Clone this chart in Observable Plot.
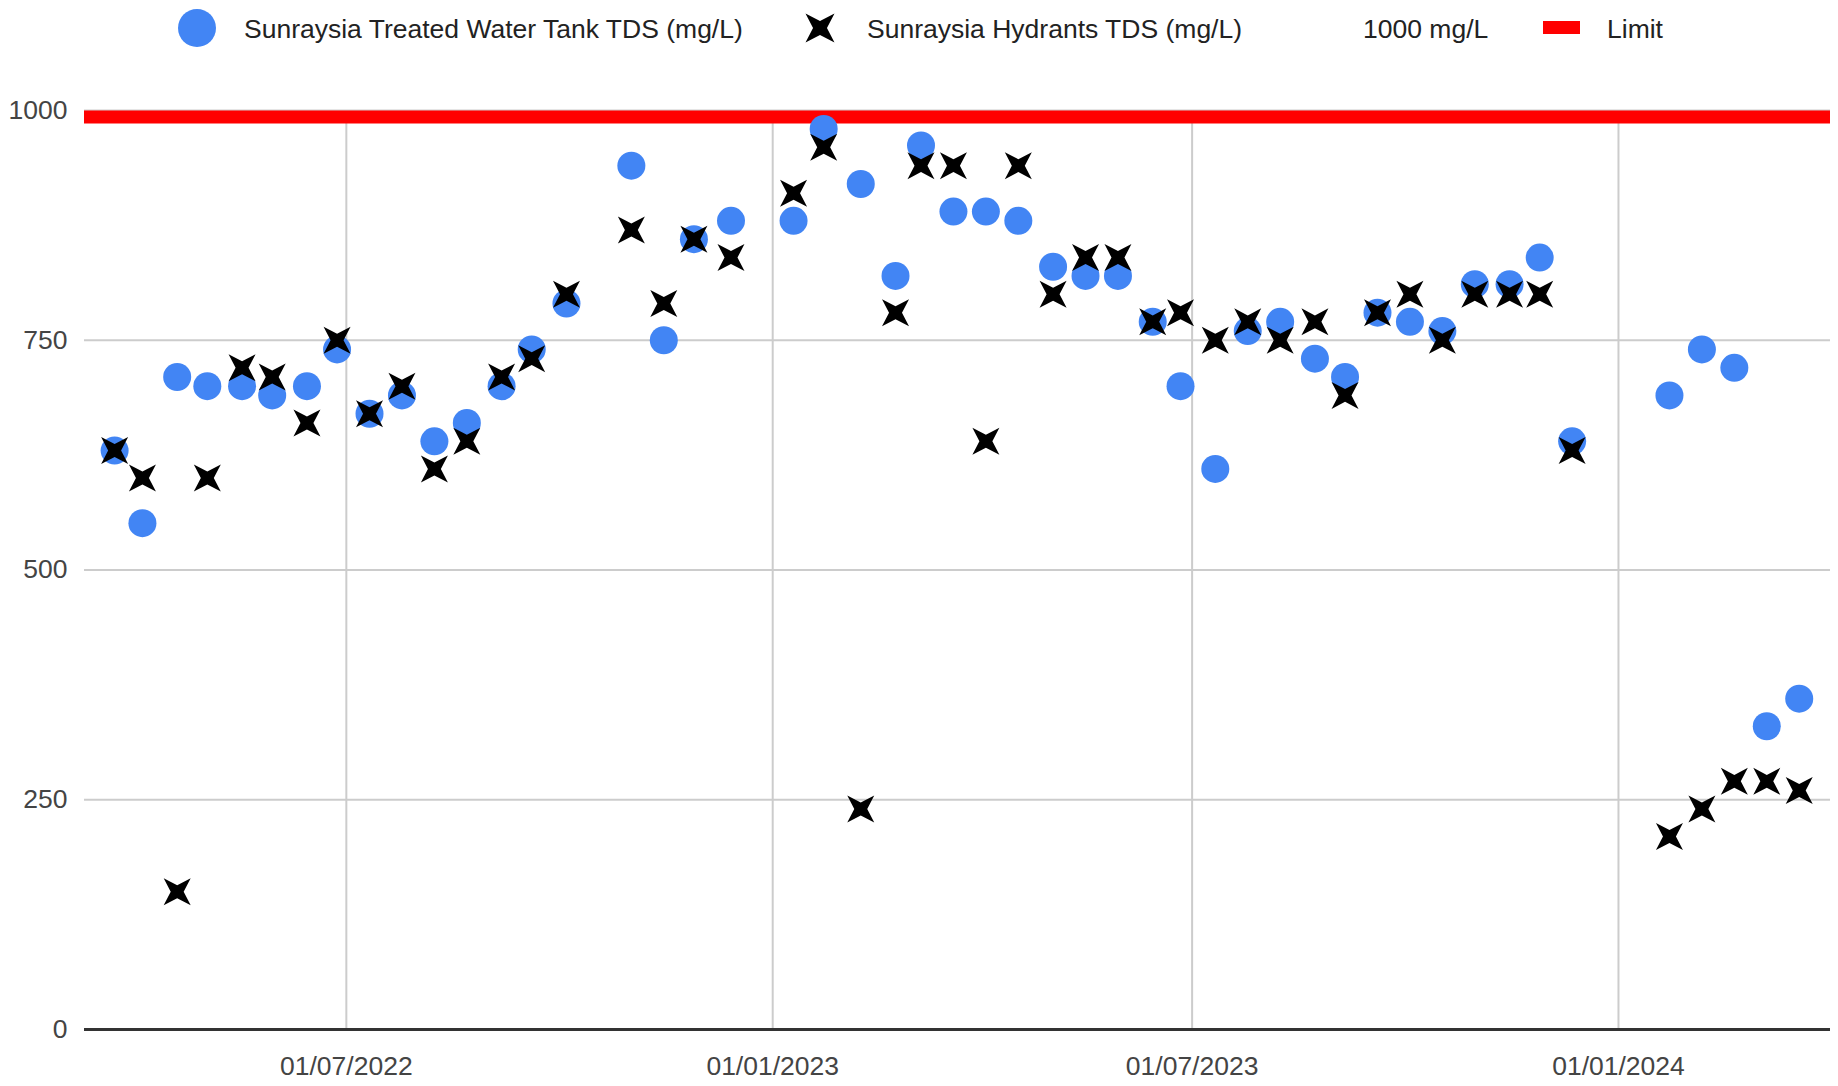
<!DOCTYPE html>
<html>
<head>
<meta charset="utf-8">
<script src="https://cdn.jsdelivr.net/npm/d3@7"></script>
<script src="https://cdn.jsdelivr.net/npm/@observablehq/plot@0.6"></script>
<style>
  html, body { margin: 0; padding: 0; background: #ffffff; }
  body { font-family: "Liberation Sans", Arial, sans-serif; }
  #legend, #chart { display: block; }
</style>
</head>
<body>
<div id="legend"></div>
<div id="chart"></div>
<script>
// ---- Data ----
const sampleDates = [
  "2022-03-23","2022-04-04","2022-04-19","2022-05-02","2022-05-17","2022-05-30","2022-06-14","2022-06-27",
  "2022-07-11","2022-07-25","2022-08-08","2022-08-22","2022-09-06","2022-09-19","2022-10-04","2022-11-01",
  "2022-11-15","2022-11-28","2022-12-14","2023-01-10","2023-01-23","2023-02-08","2023-02-23","2023-03-06",
  "2023-03-20","2023-04-03","2023-04-17","2023-05-02","2023-05-16","2023-05-30","2023-06-14","2023-06-26",
  "2023-07-11","2023-07-25","2023-08-08","2023-08-23","2023-09-05","2023-09-19","2023-10-03","2023-10-17",
  "2023-10-31","2023-11-15","2023-11-28","2023-12-12","2024-01-23","2024-02-06","2024-02-20","2024-03-05",
  "2024-03-19"
];
const tankTDS = [
  630, 551, 710, 700, 700, 690, 700, 740,
  670, 690, 640, 660, 700, 740, 790, 940,
  750, 860, 880, 880, 980, 920, 820, 962,
  890, 890, 880, 830, 820, 820, 770, 700,
  610, 760, 770, 730, 710, 780, 770, 760,
  811, 811, 840, 640, 690, 740, 720, 330,
  360
];
const hydrantTDS = [
  630, 600, 150, 600, 720, 710, 660, 750,
  670, 700, 610, 640, 710, 730, 800, 870,
  790, 860, 840, 910, 960, 240, 780, 940,
  940, 640, 940, 800, 840, 840, 770, 780,
  750, 770, 750, 770, 690, 780, 800, 750,
  800, 800, 800, 630, 210, 240, 270, 270,
  260
];
const limitValue = 1000;
const yTicks = [0, 250, 500, 750, 1000];
const xTickLabels = ["2022-07-01", "2023-01-01", "2023-07-01", "2024-01-01"];
const xDomain = ["2022-03-10T00:00:00Z", "2024-04-01T12:00:00Z"];
const seriesNames = [
  "Sunraysia Treated Water Tank TDS (mg/L)",
  "Sunraysia Hydrants TDS (mg/L)",
  "1000 mg/L",
  "Limit"
];

// ---- Styles ----
const BLUE = "#4285f4";
const RED = "#ff0000";
const W = 1838;
const LEGEND_H = 54;
const FONT = "'Liberation Sans', Arial, sans-serif";

// X-shaped 4-point star (Google Sheets "X" marker)
const xStar = {
  draw(ctx, size) {
    const a = Math.sqrt(size / Math.PI);
    const b = a * 0.48;
    ctx.moveTo(a, -a);
    ctx.lineTo(b, 0);
    ctx.lineTo(a, a);
    ctx.lineTo(0, b);
    ctx.lineTo(-a, a);
    ctx.lineTo(-b, 0);
    ctx.lineTo(-a, -a);
    ctx.lineTo(0, -b);
    ctx.closePath();
  }
};

// ---- Legend ----
const lg = d3.select("#legend").append("svg")
  .attr("width", W).attr("height", LEGEND_H)
  .style("display", "block")
  .attr("font-family", FONT)
  .attr("font-size", 26.5)
  .attr("fill", "#222");
const ly = 28;
lg.append("circle").attr("cx", 197).attr("cy", ly).attr("r", 19).attr("fill", BLUE);
lg.append("text").attr("x", 244).attr("y", ly).attr("dy", "0.36em").text(seriesNames[0]);
{
  const p = d3.path();
  xStar.draw(p, Math.PI * 14.5 * 14.5);
  lg.append("path").attr("d", p.toString()).attr("transform", `translate(820,${ly})`).attr("fill", "#000");
}
lg.append("text").attr("x", 867).attr("y", ly).attr("dy", "0.36em").text(seriesNames[1]);
lg.append("text").attr("x", 1363).attr("y", ly).attr("dy", "0.36em").text(seriesNames[2]);
lg.append("rect").attr("x", 1543).attr("y", ly - 7).attr("width", 37).attr("height", 13).attr("fill", RED);
lg.append("text").attr("x", 1607).attr("y", ly).attr("dy", "0.36em").text(seriesNames[3]);

// ---- Chart ----
const data = sampleDates.map((d, i) => ({
  date: new Date(d + "T00:00:00Z"),
  tank: tankTDS[i],
  hydrant: hydrantTDS[i]
}));
const xTicks = xTickLabels.map(d => new Date(d + "T00:00:00Z"));

const chart = Plot.plot({
  width: W,
  height: 1086 - LEGEND_H,
  marginTop: 56,
  marginBottom: 57,
  marginLeft: 84,
  marginRight: 8,
  style: { fontFamily: FONT, fontSize: "26.5px", color: "#444", background: "#fff", overflow: "visible" },
  x: {
    type: "utc",
    domain: xDomain.map(d => new Date(d)),
    ticks: xTicks,
    tickFormat: d3.utcFormat("%d/%m/%Y"),
    tickSize: 0,
    tickPadding: 27,
    label: null
  },
  y: {
    domain: [0, 1000],
    ticks: yTicks,
    tickFormat: d => String(d),
    tickSize: 0,
    tickPadding: 17,
    label: null
  },
  marks: [
    Plot.gridY(yTicks.filter(v => v > 0), { stroke: "#cccccc", strokeOpacity: 1, strokeWidth: 2 }),
    Plot.gridX(xTicks, { stroke: "#cccccc", strokeOpacity: 1, strokeWidth: 2 }),
    Plot.ruleY([0], { stroke: "#333333", strokeWidth: 3 }),
    Plot.ruleY([limitValue], { stroke: RED, strokeWidth: 13, dy: 6.5 }),
    Plot.dot(data, { x: "date", y: "tank", r: 14, fill: BLUE, stroke: "none" }),
    Plot.dot(data, { x: "date", y: "hydrant", r: 13.5, symbol: xStar, fill: "#000", stroke: "none" })
  ]
});
document.getElementById("chart").appendChild(chart);
</script>
</body>
</html>
